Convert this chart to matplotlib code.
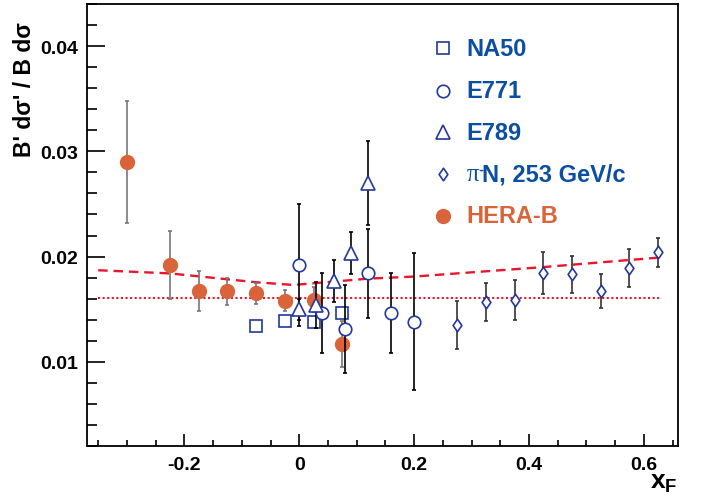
import matplotlib
matplotlib.use("Agg")
import matplotlib.pyplot as plt
from matplotlib.ticker import MultipleLocator, FixedLocator
from matplotlib.path import Path

plt.rcParams['font.family'] = ['Liberation Sans', 'DejaVu Sans']
plt.rcParams['mathtext.fontset'] = 'custom'
plt.rcParams['mathtext.bf'] = 'Liberation Sans:bold'
plt.rcParams['mathtext.rm'] = 'Liberation Sans'

# ---- data ----
herab_x = [-0.30, -0.225, -0.175, -0.125, -0.075, -0.025, 0.025, 0.075]
herab_y = [0.0290, 0.0192, 0.0167, 0.0167, 0.0165, 0.0158, 0.0159, 0.0117]
herab_e = [0.0058, 0.0032, 0.0019, 0.0013, 0.0010, 0.0010, 0.0012, 0.0022]

na50_x = [-0.075, -0.025, 0.025, 0.075]
na50_y = [0.0134, 0.0139, 0.0138, 0.0146]

e771_x = [0.0, 0.04, 0.08, 0.12, 0.16, 0.20]
e771_y = [0.0192, 0.0146, 0.0131, 0.0184, 0.0146, 0.0138]
e771_e = [0.0058, 0.0038, 0.0042, 0.0042, 0.0038, 0.0065]

e789_x = [0.0, 0.03, 0.06, 0.09, 0.12]
e789_y = [0.0150, 0.0154, 0.0177, 0.0203, 0.0270]
e789_e = [0.0010, 0.0022, 0.0020, 0.0020, 0.0040]

pin_x = [0.275, 0.325, 0.375, 0.425, 0.475, 0.525, 0.575, 0.625]
pin_y = [0.0135, 0.0157, 0.0159, 0.0184, 0.0183, 0.0167, 0.0189, 0.0204]
pin_e = [0.0023, 0.0018, 0.0019, 0.0020, 0.0018, 0.0016, 0.0018, 0.0014]

dash_x = [-0.35, -0.225, -0.075, -0.01, 0.12, 0.2, 0.425, 0.625]
dash_y = [0.0187, 0.0184, 0.01756, 0.0173, 0.0179, 0.0181, 0.0190, 0.0199]

flat_x = [-0.35, 0.63]
flat_y = [0.0161, 0.0161]

labels = ["NA50", "E771", "E789", None, "HERA-B"]

navy = '#23389A'
orange = '#D9643A'
textblue = '#0B4EA2'
red = '#E8152B'

diamond = Path([(0, 1), (0.7, 0), (0, -1), (-0.7, 0), (0, 1)],
               [Path.MOVETO, Path.LINETO, Path.LINETO, Path.LINETO, Path.CLOSEPOLY])

fig = plt.figure(figsize=(7.01, 5.02), dpi=100)
ax = fig.add_axes([0.1237, 0.1096, 0.8439, 0.8804])

ax.plot(flat_x, flat_y, color=red, lw=1.5, ls=(0, (1, 1.2)), zorder=2)
ax.plot(dash_x, dash_y, color=red, lw=1.7, ls=(0, (4, 2.5)), zorder=2)

ekw = dict(ls='none', capsize=1.5, elinewidth=1.2, capthick=1.2)
ax.errorbar(herab_x, herab_y, yerr=herab_e, fmt='o', ms=10, color=orange,
            ecolor='#777777', zorder=3, **ekw)
ax.plot(na50_x, na50_y, 's', ms=9, mfc='white', mec=navy, mew=1.2, ls='none', zorder=4)
ax.errorbar(e771_x, e771_y, yerr=e771_e, fmt='o', ms=9, mfc='white', mec=navy, mew=1.2,
            ecolor='black', zorder=4, **ekw)
ax.errorbar(e789_x, e789_y, yerr=e789_e, fmt='^', ms=9.5, mfc='white', mec=navy, mew=1.2,
            ecolor='black', zorder=4, **ekw)
ax.errorbar(pin_x, pin_y, yerr=pin_e, fmt='none', ecolor='#333333', zorder=3, **ekw)
ax.plot(pin_x, pin_y, marker=diamond, ms=9, mfc='white', mec=navy, mew=1.2, ls='none', zorder=4)

ax.set_xlim(-0.37, 0.66)
ax.set_ylim(0.002, 0.044)
ax.xaxis.set_major_locator(FixedLocator([-0.2, 0, 0.2, 0.4, 0.6]))
ax.set_xticklabels(['-0.2', '0', '0.2', '0.4', '0.6'])
ax.xaxis.set_minor_locator(MultipleLocator(0.05))
ax.yaxis.set_major_locator(FixedLocator([0.01, 0.02, 0.03, 0.04]))
ax.set_yticklabels(['0.01', '0.02', '0.03', '0.04'])
ax.yaxis.set_minor_locator(MultipleLocator(0.002))
ax.tick_params(axis='both', which='both', direction='in', top=False, right=False,
               width=1.2, labelsize=14)
ax.tick_params(axis='x', which='major', length=9, pad=7)
ax.tick_params(axis='x', which='minor', length=4)
ax.tick_params(axis='y', which='major', length=13, pad=6)
ax.tick_params(axis='y', which='minor', length=7)
for lab in ax.get_xticklabels() + ax.get_yticklabels():
    lab.set_fontweight('bold')
for sp in ax.spines.values():
    sp.set_linewidth(1.3)

fig.text(25 / 701, 1 - 22 / 502, "B' d\u03c3' / B d\u03c3", rotation=90, ha='center', va='top',
         fontsize=16.5, fontweight='bold')
fig.text(678 / 701, 1 - 495 / 502, r"$\mathbf{x_F}$", ha='right', va='bottom', fontsize=19)

# legend
mx, tx = 0.6026, 0.6423
rows = [0.8998, 0.8038, 0.7097, 0.6154, 0.5211]
mkw = dict(mfc='white', mec=navy, mew=1.2, transform=ax.transAxes, clip_on=False)
ax.plot([mx], [rows[0]], 's', ms=9, **mkw)
ax.plot([mx], [rows[1]], 'o', ms=9, **mkw)
ax.plot([mx], [rows[2]], '^', ms=9.5, **mkw)
ax.plot([mx], [rows[3]], marker=diamond, ms=9, **mkw)
ax.plot([mx], [rows[4]], 'o', ms=10, color=orange, transform=ax.transAxes, clip_on=False)
for lab, ry in zip(labels, rows):
    if lab is None:
        continue
    col = orange if lab == "HERA-B" else textblue
    ax.text(tx, ry, lab, transform=ax.transAxes, ha='left', va='center',
            fontsize=17, fontweight='bold', color=col)
t_pi = ax.text(tx, rows[3], "\u03c0", transform=ax.transAxes, ha='left', va='center',
               fontsize=18, family='Liberation Serif', color=textblue)
ax.annotate("-", xy=(0.95, 0.75), xycoords=t_pi, ha='left', va='center',
            fontsize=11, fontweight='bold', color=textblue)
ax.annotate("N, 253 GeV/c", xy=(1.25, 0.5), xycoords=t_pi, ha='left', va='center',
            fontsize=17, fontweight='bold', color=textblue)

fig.savefig("out.png", dpi=100)
